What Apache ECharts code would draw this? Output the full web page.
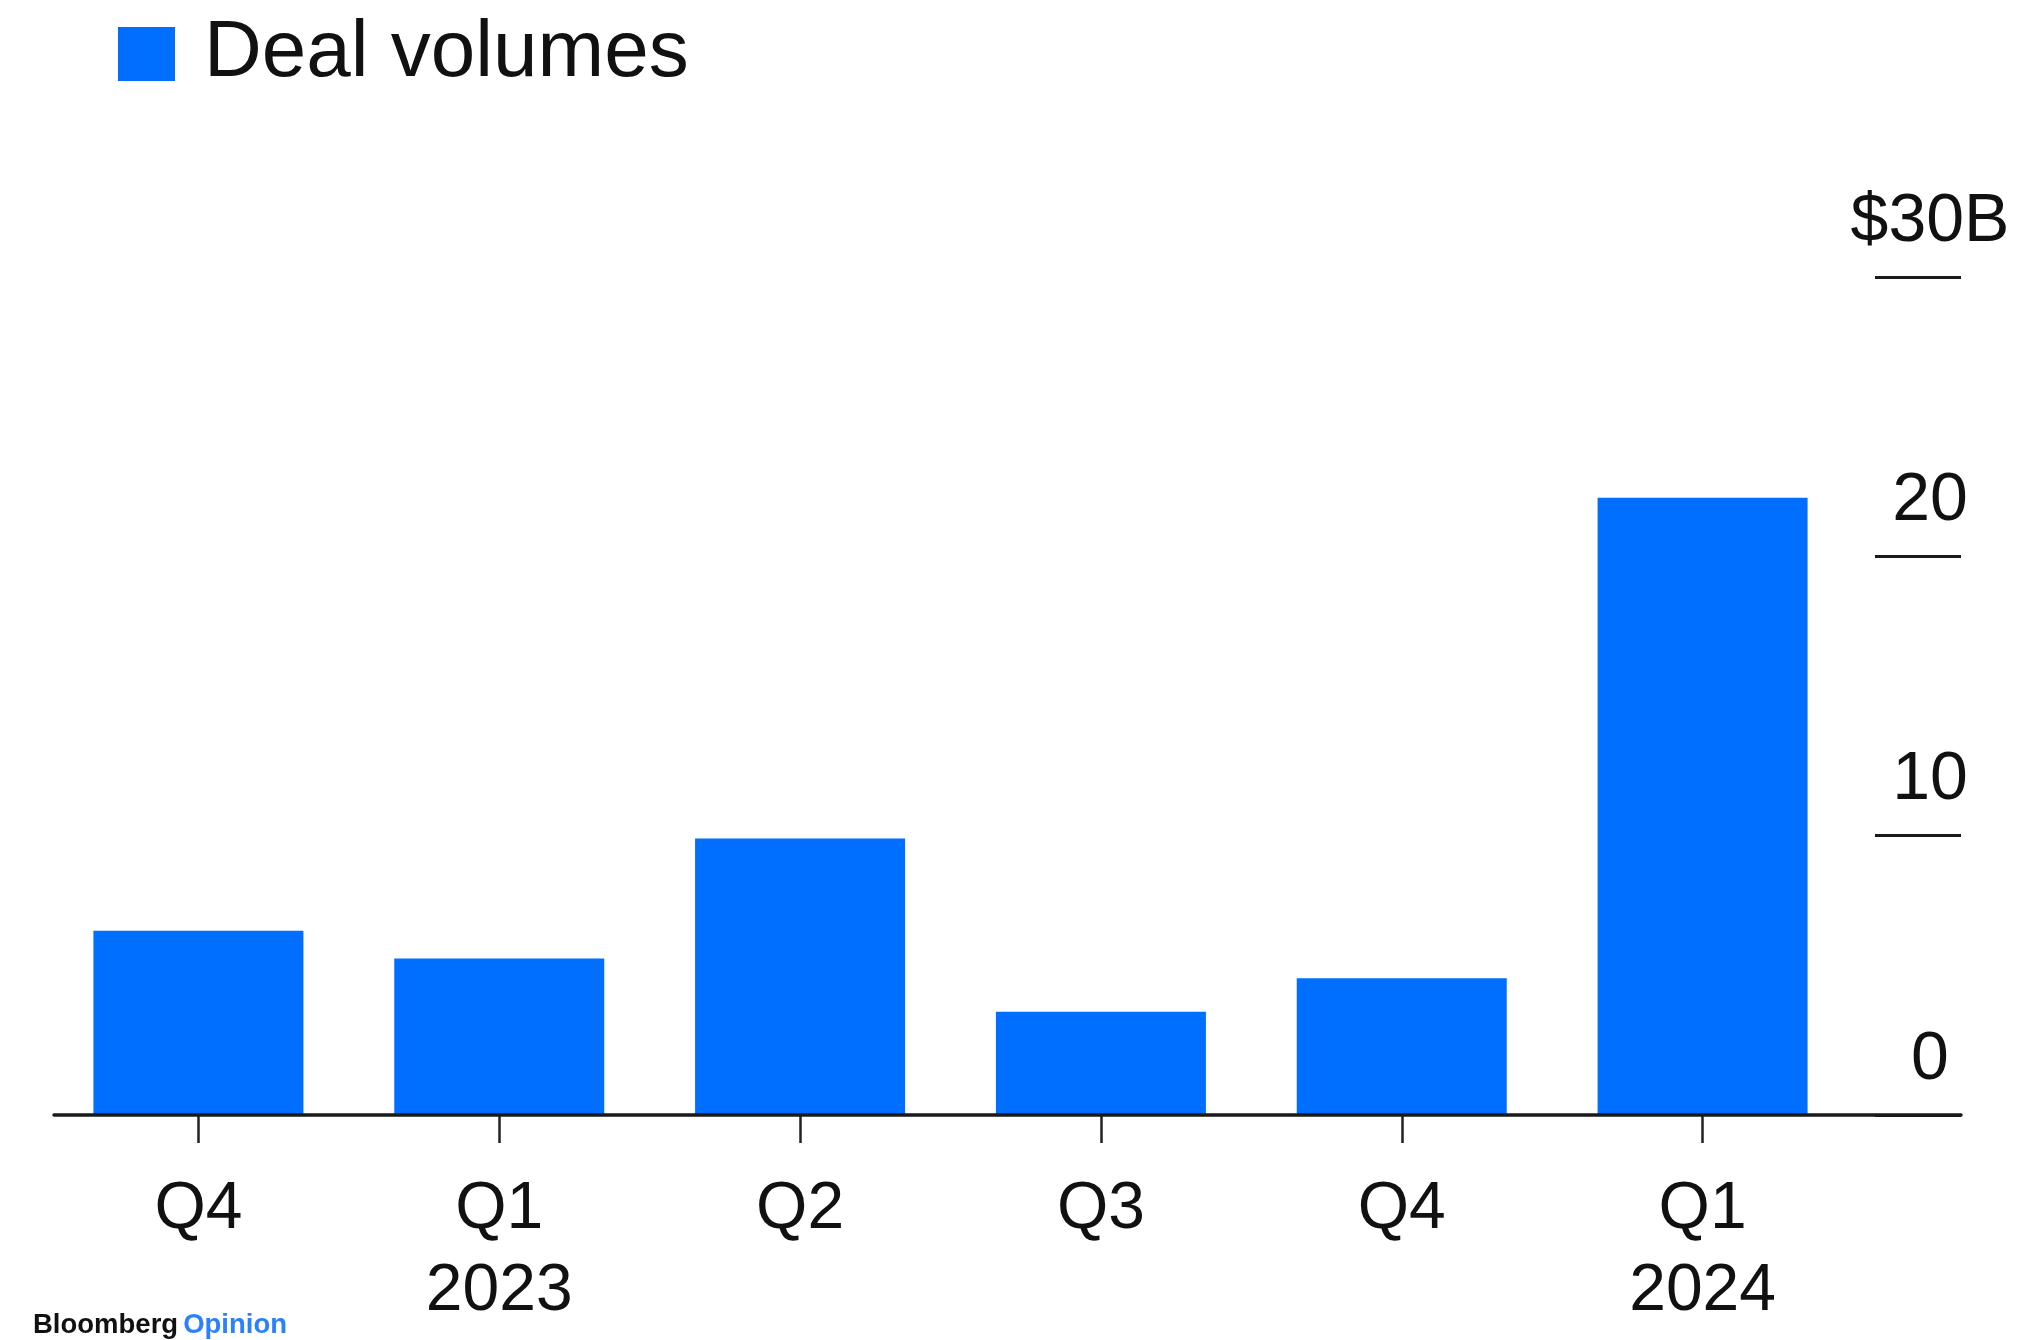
<!DOCTYPE html>
<html>
<head>
<meta charset="utf-8">
<title>Deal volumes</title>
<script src="https://cdn.jsdelivr.net/npm/echarts@6/dist/echarts.min.js"></script>
<style>
  html, body { margin: 0; padding: 0; background: #fff; }
  #chart { width: 2029px; height: 1340px; }
</style>
</head>
<body>
<div id="chart"></div>
<script>
// Quarterly deal volumes, $ billions
const categories = ['Q4 2022', 'Q1 2023', 'Q2 2023', 'Q3 2023', 'Q4 2023', 'Q1 2024'];
const quarterLabels = ['Q4', 'Q1', 'Q2', 'Q3', 'Q4', 'Q1'];
const yearLabels = ['', '2023', '', '', '', '2024'];
const dealVolumes = [6.6, 5.6, 9.9, 3.7, 4.9, 22.1];
const yTicks = [0, 10, 20, 30];
const yTickText = ['0', '10', '20', '$30B'];

const BLUE = '#006EFF';
const INK = '#111111';
const FONT = '"Liberation Sans", Arial, Helvetica, sans-serif';

const chart = echarts.init(document.getElementById('chart'), null, { renderer: 'canvas' });

const yMin = yTicks[0];
const yMax = yTicks[yTicks.length - 1];
const yStep = yTicks[1] - yTicks[0];

chart.setOption({
  backgroundColor: '#ffffff',
  animation: false,
  textStyle: { fontFamily: FONT },
  title: {
    left: 28,
    top: 1306,
    text: '{a|Bloomberg} {b|Opinion}',
    textStyle: {
      rich: {
        a: { fontFamily: FONT, fontSize: 27.5, fontWeight: 'bold', color: '#111111' },
        b: { fontFamily: FONT, fontSize: 27.5, fontWeight: 'bold', color: '#2A80FF' }
      }
    }
  },
  legend: {
    left: 118,
    top: 14,
    padding: 0,
    itemWidth: 57,
    itemHeight: 54,
    icon: 'rect',
    data: ['Deal volumes'],
    textStyle: { fontFamily: FONT, fontSize: 80, color: INK, padding: [0, 0, 0, 24] }
  },
  grid: [
    // bars and category axis
    { left: 48, width: 1805, top: 277, bottom: 225, containLabel: false },
    // full-width baseline and right-hand value scale
    { left: 54, right: 68, top: 277, bottom: 225, containLabel: false }
  ],
  xAxis: [
    {
      type: 'category',
      gridIndex: 0,
      data: categories,
      boundaryGap: true,
      axisLine: { show: false },
      axisTick: { show: true, alignWithLabel: true, length: 28, lineStyle: { color: '#222', width: 2.5 } },
      axisLabel: {
        margin: 54,
        fontFamily: FONT,
        fontSize: 66,
        lineHeight: 82,
        color: INK,
        interval: 0,
        formatter: function (value, index) {
          return quarterLabels[index] + (yearLabels[index] ? '\n' + yearLabels[index] : '');
        }
      },
      splitLine: { show: false }
    },
    {
      type: 'value',
      gridIndex: 1,
      min: 0,
      max: 1,
      z: 5,
      axisLine: { show: true, onZero: false, lineStyle: { color: '#1a1a1a', width: 3.5 } },
      axisTick: { show: false },
      axisLabel: { show: false },
      splitLine: { show: false }
    }
  ],
  yAxis: [
    {
      type: 'value',
      gridIndex: 0,
      min: yMin,
      max: yMax,
      interval: yStep,
      show: false
    },
    {
      type: 'value',
      gridIndex: 1,
      position: 'right',
      min: yMin,
      max: yMax,
      interval: yStep,
      axisLine: { show: false, onZero: false },
      axisTick: { show: true, inside: true, length: 86, lineStyle: { color: '#1a1a1a', width: 3 } },
      splitLine: { show: false },
      axisLabel: {
        inside: true,
        margin: 31,
        align: 'center',
        verticalAlign: 'bottom',
        lineHeight: 110,
        fontFamily: FONT,
        fontSize: 68,
        color: INK,
        formatter: function (value) {
          const i = yTicks.indexOf(value);
          return i >= 0 ? yTickText[i] : '';
        }
      }
    }
  ],
  series: [
    {
      name: 'Deal volumes',
      type: 'bar',
      xAxisIndex: 0,
      yAxisIndex: 0,
      data: dealVolumes,
      barWidth: 210,
      itemStyle: { color: BLUE },
      z: 2
    }
  ]
});
</script>
</body>
</html>
